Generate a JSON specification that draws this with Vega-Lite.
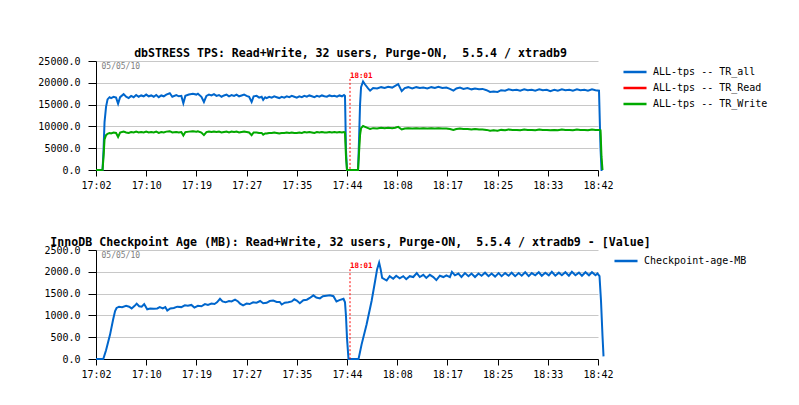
{
  "$schema": "https://vega.github.io/schema/vega-lite/v6.json",
  "padding": {"left": 37, "top": 48, "right": 5, "bottom": 5},
  "spacing": 47,
  "config": {
    "font": "DejaVu Sans Mono",
    "view": {"stroke": null},
    "axis": {"labelFont": "DejaVu Sans Mono", "labelFontSize": 10, "labelColor": "#000000", "domainColor": "#000000", "tickColor": "#000000", "labelFlush": false, "labelOverlap": false},
    "axisX": {"grid": false, "tickSize": 6, "labelPadding": 4},
    "axisY": {"grid": true, "gridColor": "#c8c8c8", "tickSize": 8, "labelPadding": 8},
    "legend": {"orient": "right", "labelFont": "DejaVu Sans Mono", "labelFontSize": 10, "labelColor": "#000000", "symbolType": "M-2.5,0H2.5", "symbolSize": 85, "symbolStrokeWidth": 2.5, "labelOffset": 12, "rowPadding": 5, "offset": 17, "padding": 5},
    "title": {"font": "DejaVu Sans Mono", "fontSize": 11.6, "fontWeight": "bold", "color": "#000000", "anchor": "middle", "frame": "group", "offset": -4, "dx": 3.5}
  },
  "datasets": {
    "tps": [
      {"i":0,"TR_all":0,"TR_Read":0,"TR_Write":0},
      {"i":1.3,"TR_all":0,"TR_Read":0,"TR_Write":0},
      {"i":1.5,"TR_all":4500,"TR_Read":3000,"TR_Write":3000},
      {"i":1.7,"TR_all":11000,"TR_Read":7000,"TR_Write":7000},
      {"i":2.0,"TR_all":14500,"TR_Read":8000,"TR_Write":8000},
      {"i":2.3,"TR_all":16200,"TR_Read":8300,"TR_Write":8300},
      {"i":2.7,"TR_all":16700,"TR_Read":8500,"TR_Write":8500},
      {"i":3.0,"TR_all":16500,"TR_Read":8400,"TR_Write":8400},
      {"i":3.5,"TR_all":16800,"TR_Read":8600,"TR_Write":8600},
      {"i":4.0,"TR_all":16600,"TR_Read":8500,"TR_Write":8500},
      {"i":4.4,"TR_all":15200,"TR_Read":7600,"TR_Write":7600},
      {"i":4.8,"TR_all":16700,"TR_Read":8600,"TR_Write":8600},
      {"i":5.5,"TR_all":17400,"TR_Read":8800,"TR_Write":8800},
      {"i":6.0,"TR_all":16800,"TR_Read":8600,"TR_Write":8600},
      {"i":6.5,"TR_all":16500,"TR_Read":8500,"TR_Write":8500},
      {"i":7.0,"TR_all":17000,"TR_Read":8700,"TR_Write":8700},
      {"i":7.5,"TR_all":16700,"TR_Read":8600,"TR_Write":8600},
      {"i":8.0,"TR_all":17200,"TR_Read":8800,"TR_Write":8800},
      {"i":8.5,"TR_all":16800,"TR_Read":8600,"TR_Write":8600},
      {"i":9.0,"TR_all":17100,"TR_Read":8700,"TR_Write":8700},
      {"i":9.5,"TR_all":16900,"TR_Read":8600,"TR_Write":8600},
      {"i":10.0,"TR_all":17300,"TR_Read":8800,"TR_Write":8800},
      {"i":10.5,"TR_all":16900,"TR_Read":8600,"TR_Write":8600},
      {"i":11.0,"TR_all":17100,"TR_Read":8700,"TR_Write":8700},
      {"i":11.5,"TR_all":16800,"TR_Read":8600,"TR_Write":8600},
      {"i":12.0,"TR_all":17200,"TR_Read":8800,"TR_Write":8800},
      {"i":12.5,"TR_all":16700,"TR_Read":8500,"TR_Write":8500},
      {"i":13.0,"TR_all":17100,"TR_Read":8700,"TR_Write":8700},
      {"i":13.5,"TR_all":16900,"TR_Read":8600,"TR_Write":8600},
      {"i":14.0,"TR_all":17300,"TR_Read":8800,"TR_Write":8800},
      {"i":14.7,"TR_all":17600,"TR_Read":8900,"TR_Write":8900},
      {"i":15.2,"TR_all":16800,"TR_Read":8600,"TR_Write":8600},
      {"i":16.0,"TR_all":17200,"TR_Read":8700,"TR_Write":8700},
      {"i":16.5,"TR_all":16900,"TR_Read":8600,"TR_Write":8600},
      {"i":17.0,"TR_all":17000,"TR_Read":8700,"TR_Write":8700},
      {"i":17.4,"TR_all":15300,"TR_Read":7900,"TR_Write":7900},
      {"i":17.8,"TR_all":17000,"TR_Read":8700,"TR_Write":8700},
      {"i":18.5,"TR_all":17300,"TR_Read":8800,"TR_Write":8800},
      {"i":19.3,"TR_all":17500,"TR_Read":8900,"TR_Write":8900},
      {"i":20.0,"TR_all":17300,"TR_Read":8800,"TR_Write":8800},
      {"i":20.3,"TR_all":17500,"TR_Read":8900,"TR_Write":8900},
      {"i":21.0,"TR_all":16800,"TR_Read":8600,"TR_Write":8600},
      {"i":21.5,"TR_all":15600,"TR_Read":8000,"TR_Write":8000},
      {"i":22.0,"TR_all":17000,"TR_Read":8700,"TR_Write":8700},
      {"i":22.5,"TR_all":17300,"TR_Read":8800,"TR_Write":8800},
      {"i":23.0,"TR_all":17100,"TR_Read":8700,"TR_Write":8700},
      {"i":23.5,"TR_all":17400,"TR_Read":8800,"TR_Write":8800},
      {"i":24.0,"TR_all":17000,"TR_Read":8700,"TR_Write":8700},
      {"i":24.5,"TR_all":17200,"TR_Read":8800,"TR_Write":8800},
      {"i":25.0,"TR_all":16800,"TR_Read":8600,"TR_Write":8600},
      {"i":25.5,"TR_all":17100,"TR_Read":8700,"TR_Write":8700},
      {"i":26.0,"TR_all":17300,"TR_Read":8800,"TR_Write":8800},
      {"i":26.5,"TR_all":16900,"TR_Read":8600,"TR_Write":8600},
      {"i":27.0,"TR_all":17200,"TR_Read":8800,"TR_Write":8800},
      {"i":27.5,"TR_all":17000,"TR_Read":8700,"TR_Write":8700},
      {"i":28.0,"TR_all":17300,"TR_Read":8800,"TR_Write":8800},
      {"i":28.5,"TR_all":16900,"TR_Read":8600,"TR_Write":8600},
      {"i":29.0,"TR_all":17100,"TR_Read":8700,"TR_Write":8700},
      {"i":29.5,"TR_all":17300,"TR_Read":8800,"TR_Write":8800},
      {"i":30.0,"TR_all":17000,"TR_Read":8700,"TR_Write":8700},
      {"i":30.5,"TR_all":16800,"TR_Read":8600,"TR_Write":8600},
      {"i":31.0,"TR_all":15600,"TR_Read":8000,"TR_Write":8000},
      {"i":31.4,"TR_all":16900,"TR_Read":8600,"TR_Write":8600},
      {"i":32.0,"TR_all":17000,"TR_Read":8600,"TR_Write":8600},
      {"i":32.5,"TR_all":16600,"TR_Read":8500,"TR_Write":8500},
      {"i":33.0,"TR_all":16800,"TR_Read":8500,"TR_Write":8500},
      {"i":33.3,"TR_all":16100,"TR_Read":8100,"TR_Write":8100},
      {"i":33.7,"TR_all":16700,"TR_Read":8400,"TR_Write":8400},
      {"i":34.0,"TR_all":16500,"TR_Read":8400,"TR_Write":8400},
      {"i":34.5,"TR_all":16800,"TR_Read":8500,"TR_Write":8500},
      {"i":35.0,"TR_all":16600,"TR_Read":8500,"TR_Write":8500},
      {"i":35.5,"TR_all":16900,"TR_Read":8600,"TR_Write":8600},
      {"i":36.0,"TR_all":16700,"TR_Read":8500,"TR_Write":8500},
      {"i":36.5,"TR_all":16500,"TR_Read":8400,"TR_Write":8400},
      {"i":37.0,"TR_all":16800,"TR_Read":8500,"TR_Write":8500},
      {"i":37.5,"TR_all":16600,"TR_Read":8500,"TR_Write":8500},
      {"i":38.0,"TR_all":16900,"TR_Read":8600,"TR_Write":8600},
      {"i":38.5,"TR_all":16700,"TR_Read":8500,"TR_Write":8500},
      {"i":39.0,"TR_all":17000,"TR_Read":8600,"TR_Write":8600},
      {"i":39.5,"TR_all":16800,"TR_Read":8500,"TR_Write":8500},
      {"i":40.0,"TR_all":16600,"TR_Read":8500,"TR_Write":8500},
      {"i":40.5,"TR_all":16900,"TR_Read":8600,"TR_Write":8600},
      {"i":41.0,"TR_all":16700,"TR_Read":8500,"TR_Write":8500},
      {"i":41.5,"TR_all":17000,"TR_Read":8700,"TR_Write":8700},
      {"i":42.0,"TR_all":16800,"TR_Read":8600,"TR_Write":8600},
      {"i":42.5,"TR_all":17100,"TR_Read":8700,"TR_Write":8700},
      {"i":43.0,"TR_all":16900,"TR_Read":8600,"TR_Write":8600},
      {"i":43.5,"TR_all":16700,"TR_Read":8500,"TR_Write":8500},
      {"i":44.0,"TR_all":17000,"TR_Read":8700,"TR_Write":8700},
      {"i":44.5,"TR_all":16800,"TR_Read":8600,"TR_Write":8600},
      {"i":45.0,"TR_all":17100,"TR_Read":8700,"TR_Write":8700},
      {"i":45.5,"TR_all":16900,"TR_Read":8600,"TR_Write":8600},
      {"i":46.0,"TR_all":16800,"TR_Read":8600,"TR_Write":8600},
      {"i":46.5,"TR_all":17100,"TR_Read":8700,"TR_Write":8700},
      {"i":47.0,"TR_all":16900,"TR_Read":8600,"TR_Write":8600},
      {"i":47.5,"TR_all":17000,"TR_Read":8700,"TR_Write":8700},
      {"i":48.0,"TR_all":16800,"TR_Read":8600,"TR_Write":8600},
      {"i":48.5,"TR_all":17100,"TR_Read":8700,"TR_Write":8700},
      {"i":49.0,"TR_all":16900,"TR_Read":8600,"TR_Write":8600},
      {"i":49.4,"TR_all":17200,"TR_Read":8700,"TR_Write":8700},
      {"i":49.6,"TR_all":17000,"TR_Read":8600,"TR_Write":8600},
      {"i":49.8,"TR_all":4500,"TR_Read":3000,"TR_Write":3000},
      {"i":50.0,"TR_all":0,"TR_Read":0,"TR_Write":0},
      {"i":52.2,"TR_all":0,"TR_Read":0,"TR_Write":0},
      {"i":52.4,"TR_all":7000,"TR_Read":4000,"TR_Write":4000},
      {"i":52.6,"TR_all":15000,"TR_Read":8000,"TR_Write":8000},
      {"i":52.8,"TR_all":19000,"TR_Read":9600,"TR_Write":9600},
      {"i":53.2,"TR_all":20300,"TR_Read":10100,"TR_Write":10100},
      {"i":53.6,"TR_all":19600,"TR_Read":9900,"TR_Write":9900},
      {"i":54.2,"TR_all":18700,"TR_Read":9600,"TR_Write":9600},
      {"i":54.6,"TR_all":18200,"TR_Read":9400,"TR_Write":9400},
      {"i":55.2,"TR_all":18800,"TR_Read":9600,"TR_Write":9600},
      {"i":56.0,"TR_all":18700,"TR_Read":9500,"TR_Write":9500},
      {"i":56.8,"TR_all":19000,"TR_Read":9700,"TR_Write":9700},
      {"i":57.5,"TR_all":18800,"TR_Read":9600,"TR_Write":9600},
      {"i":58.2,"TR_all":19100,"TR_Read":9700,"TR_Write":9700},
      {"i":59.0,"TR_all":18900,"TR_Read":9600,"TR_Write":9600},
      {"i":59.6,"TR_all":19300,"TR_Read":9700,"TR_Write":9700},
      {"i":60.2,"TR_all":19700,"TR_Read":9900,"TR_Write":9900},
      {"i":60.9,"TR_all":18100,"TR_Read":9300,"TR_Write":9300},
      {"i":61.5,"TR_all":18800,"TR_Read":9500,"TR_Write":9500},
      {"i":62.2,"TR_all":19000,"TR_Read":9600,"TR_Write":9600},
      {"i":63.0,"TR_all":18700,"TR_Read":9500,"TR_Write":9500},
      {"i":63.8,"TR_all":19000,"TR_Read":9600,"TR_Write":9600},
      {"i":64.5,"TR_all":18800,"TR_Read":9500,"TR_Write":9500},
      {"i":65.2,"TR_all":18900,"TR_Read":9600,"TR_Write":9600},
      {"i":66.0,"TR_all":18700,"TR_Read":9500,"TR_Write":9500},
      {"i":66.8,"TR_all":19000,"TR_Read":9600,"TR_Write":9600},
      {"i":67.5,"TR_all":18800,"TR_Read":9500,"TR_Write":9500},
      {"i":68.2,"TR_all":19100,"TR_Read":9600,"TR_Write":9600},
      {"i":69.0,"TR_all":18800,"TR_Read":9500,"TR_Write":9500},
      {"i":69.8,"TR_all":18900,"TR_Read":9500,"TR_Write":9500},
      {"i":70.5,"TR_all":18600,"TR_Read":9400,"TR_Write":9400},
      {"i":71.2,"TR_all":18200,"TR_Read":9200,"TR_Write":9200},
      {"i":71.8,"TR_all":18700,"TR_Read":9400,"TR_Write":9400},
      {"i":72.5,"TR_all":18900,"TR_Read":9500,"TR_Write":9500},
      {"i":73.2,"TR_all":18600,"TR_Read":9400,"TR_Write":9400},
      {"i":74.0,"TR_all":18800,"TR_Read":9400,"TR_Write":9400},
      {"i":74.8,"TR_all":18500,"TR_Read":9300,"TR_Write":9300},
      {"i":75.5,"TR_all":18700,"TR_Read":9400,"TR_Write":9400},
      {"i":76.3,"TR_all":18500,"TR_Read":9300,"TR_Write":9300},
      {"i":77.0,"TR_all":18600,"TR_Read":9300,"TR_Write":9300},
      {"i":77.8,"TR_all":18300,"TR_Read":9200,"TR_Write":9200},
      {"i":78.5,"TR_all":17900,"TR_Read":9000,"TR_Write":9000},
      {"i":79.2,"TR_all":18000,"TR_Read":9100,"TR_Write":9100},
      {"i":80.0,"TR_all":17900,"TR_Read":9000,"TR_Write":9000},
      {"i":80.7,"TR_all":18300,"TR_Read":9200,"TR_Write":9200},
      {"i":81.5,"TR_all":18200,"TR_Read":9100,"TR_Write":9100},
      {"i":82.2,"TR_all":18500,"TR_Read":9300,"TR_Write":9300},
      {"i":83.0,"TR_all":18300,"TR_Read":9200,"TR_Write":9200},
      {"i":83.8,"TR_all":18400,"TR_Read":9200,"TR_Write":9200},
      {"i":84.5,"TR_all":18200,"TR_Read":9100,"TR_Write":9100},
      {"i":85.3,"TR_all":18500,"TR_Read":9300,"TR_Write":9300},
      {"i":86.0,"TR_all":18300,"TR_Read":9200,"TR_Write":9200},
      {"i":86.8,"TR_all":18400,"TR_Read":9200,"TR_Write":9200},
      {"i":87.5,"TR_all":18200,"TR_Read":9100,"TR_Write":9100},
      {"i":88.3,"TR_all":18500,"TR_Read":9300,"TR_Write":9300},
      {"i":89.0,"TR_all":18300,"TR_Read":9200,"TR_Write":9200},
      {"i":89.8,"TR_all":18400,"TR_Read":9200,"TR_Write":9200},
      {"i":90.5,"TR_all":18100,"TR_Read":9100,"TR_Write":9100},
      {"i":91.3,"TR_all":18400,"TR_Read":9200,"TR_Write":9200},
      {"i":92.0,"TR_all":18200,"TR_Read":9100,"TR_Write":9100},
      {"i":92.8,"TR_all":18500,"TR_Read":9300,"TR_Write":9300},
      {"i":93.5,"TR_all":18300,"TR_Read":9200,"TR_Write":9200},
      {"i":94.3,"TR_all":18400,"TR_Read":9200,"TR_Write":9200},
      {"i":95.0,"TR_all":18200,"TR_Read":9100,"TR_Write":9100},
      {"i":95.8,"TR_all":18500,"TR_Read":9300,"TR_Write":9300},
      {"i":96.5,"TR_all":18300,"TR_Read":9200,"TR_Write":9200},
      {"i":97.3,"TR_all":18400,"TR_Read":9200,"TR_Write":9200},
      {"i":98.0,"TR_all":18200,"TR_Read":9100,"TR_Write":9100},
      {"i":98.8,"TR_all":18500,"TR_Read":9300,"TR_Write":9300},
      {"i":99.5,"TR_all":18300,"TR_Read":9200,"TR_Write":9200},
      {"i":100.2,"TR_all":18200,"TR_Read":9200,"TR_Write":9200},
      {"i":100.5,"TR_all":5000,"TR_Read":9100,"TR_Write":9100},
      {"i":100.7,"TR_all":0,"TR_Read":3000,"TR_Write":3000},
      {"i":100.9,"TR_all":0,"TR_Read":0,"TR_Write":0}
    ],
    "ckpt": [
      {"i":0,"v":0},{"i":1.45,"v":0},{"i":2.0,"v":200},{"i":2.8,"v":560},{"i":3.4,"v":900},{"i":3.8,"v":1100},{"i":4.1,"v":1170},{"i":4.6,"v":1200},{"i":5.2,"v":1190},{"i":6.0,"v":1220},{"i":6.6,"v":1200},{"i":7.1,"v":1160},{"i":7.7,"v":1220},{"i":8.1,"v":1270},{"i":8.6,"v":1210},{"i":9.1,"v":1200},{"i":9.6,"v":1260},{"i":10.2,"v":1140},{"i":10.8,"v":1160},{"i":11.5,"v":1150},{"i":12.2,"v":1160},{"i":12.7,"v":1190},{"i":13.3,"v":1160},{"i":13.8,"v":1190},{"i":14.2,"v":1110},{"i":14.8,"v":1160},{"i":15.5,"v":1170},{"i":16.2,"v":1200},{"i":17.0,"v":1190},{"i":17.7,"v":1230},{"i":18.3,"v":1220},{"i":19.0,"v":1240},{"i":19.6,"v":1180},{"i":20.3,"v":1220},{"i":21.0,"v":1210},{"i":21.7,"v":1260},{"i":22.3,"v":1240},{"i":23.0,"v":1270},{"i":23.6,"v":1260},{"i":24.1,"v":1300},{"i":24.7,"v":1380},{"i":25.2,"v":1320},{"i":25.8,"v":1300},{"i":26.5,"v":1330},{"i":27.0,"v":1320},{"i":27.7,"v":1360},{"i":28.3,"v":1320},{"i":28.7,"v":1270},{"i":29.3,"v":1230},{"i":30.0,"v":1270},{"i":30.6,"v":1260},{"i":31.3,"v":1300},{"i":32.0,"v":1290},{"i":32.7,"v":1330},{"i":33.3,"v":1280},{"i":34.0,"v":1290},{"i":34.6,"v":1330},{"i":35.3,"v":1340},{"i":36.0,"v":1310},{"i":36.6,"v":1310},{"i":37.0,"v":1250},{"i":37.6,"v":1290},{"i":38.3,"v":1300},{"i":39.0,"v":1320},{"i":39.5,"v":1370},{"i":40.0,"v":1340},{"i":40.6,"v":1280},{"i":41.3,"v":1350},{"i":42.0,"v":1360},{"i":42.6,"v":1400},{"i":43.3,"v":1460},{"i":43.9,"v":1410},{"i":44.6,"v":1390},{"i":45.2,"v":1440},{"i":45.9,"v":1450},{"i":46.6,"v":1460},{"i":47.3,"v":1440},{"i":47.9,"v":1320},{"i":48.5,"v":1350},{"i":49.3,"v":1380},{"i":49.6,"v":1300},{"i":49.8,"v":980},{"i":50.0,"v":480},{"i":50.3,"v":0},
      {"i":52.3,"v":0},{"i":52.9,"v":330},{"i":53.9,"v":790},{"i":54.9,"v":1330},{"i":55.6,"v":1790},{"i":56.0,"v":2060},{"i":56.4,"v":2210},{"i":56.7,"v":2060},{"i":57.0,"v":1860},{"i":57.9,"v":1800},{"i":58.5,"v":1900},{"i":59.2,"v":1840},{"i":59.8,"v":1910},{"i":60.5,"v":1850},{"i":61.2,"v":1900},{"i":61.8,"v":1830},{"i":62.5,"v":1900},{"i":63.2,"v":1880},{"i":63.9,"v":1970},{"i":64.5,"v":1880},{"i":65.2,"v":1930},{"i":65.8,"v":1860},{"i":66.5,"v":1930},{"i":67.2,"v":1880},{"i":67.8,"v":1810},{"i":68.5,"v":1910},{"i":69.2,"v":1880},{"i":69.8,"v":1920},{"i":70.5,"v":1880},{"i":70.9,"v":2000},{"i":71.5,"v":1920},{"i":72.2,"v":1960},{"i":72.8,"v":1880},{"i":73.5,"v":1970},{"i":74.2,"v":1900},{"i":74.8,"v":1960},{"i":75.5,"v":1880},{"i":76.2,"v":1960},{"i":76.8,"v":1910},{"i":77.5,"v":1980},{"i":78.2,"v":1900},{"i":78.8,"v":1960},{"i":79.5,"v":1890},{"i":80.2,"v":1970},{"i":80.8,"v":1900},{"i":81.5,"v":1970},{"i":82.2,"v":1910},{"i":82.8,"v":1980},{"i":83.5,"v":1900},{"i":84.2,"v":1970},{"i":84.8,"v":1910},{"i":85.5,"v":1990},{"i":86.2,"v":1900},{"i":86.8,"v":1970},{"i":87.5,"v":1920},{"i":88.2,"v":1990},{"i":88.8,"v":1910},{"i":89.5,"v":1980},{"i":90.2,"v":1920},{"i":90.8,"v":2000},{"i":91.5,"v":1910},{"i":92.2,"v":1980},{"i":92.8,"v":1920},{"i":93.5,"v":1990},{"i":94.2,"v":1910},{"i":94.8,"v":2000},{"i":95.5,"v":1920},{"i":96.2,"v":1980},{"i":96.8,"v":1910},{"i":97.5,"v":1990},{"i":98.2,"v":1920},{"i":98.8,"v":1990},{"i":99.5,"v":1920},{"i":99.9,"v":1960},{"i":100.3,"v":1900},{"i":100.6,"v":1330},{"i":100.9,"v":520},{"i":101.1,"v":60}
    ],
    "mark1": [{"i": 50.6, "v": 20900, "label": "18:01", "date": "05/05/10"}],
    "mark2": [{"i": 50.6, "v": 2060, "label": "18:01", "date": "05/05/10"}]
  },
  "resolve": {"scale": {"color": "independent"}, "legend": {"color": "independent"}},
  "vconcat": [
    {
      "title": {"text": "dbSTRESS TPS: Read+Write, 32 users, Purge-ON,\u00a0 5.5.4 / xtradb9"},
      "width": 502,
      "height": 109,
      "encoding": {
        "x": {"field": "i", "type": "quantitative", "scale": {"domain": [0, 100], "nice": false, "zero": false},
              "axis": {"title": null, "values": [0,10,20,30,40,50,60,70,80,90,100],
                       "labelExpr": "['17:02','17:10','17:19','17:27','17:35','17:44','18:08','18:17','18:25','18:33','18:42'][round(datum.value/10)]"}},
        "y": {"field": "v", "type": "quantitative", "scale": {"domain": [0, 25000], "nice": false},
              "axis": {"title": null, "values": [0,5000,10000,15000,20000,25000], "format": ".1f"}}
      },
      "layer": [
        {
          "data": {"name": "tps"},
          "transform": [{"fold": ["TR_all", "TR_Read", "TR_Write"], "as": ["series", "v"]}],
          "mark": {"type": "line"},
          "encoding": {
            "color": {"field": "series", "type": "nominal",
                      "scale": {"domain": ["TR_all", "TR_Read", "TR_Write"], "range": ["#0066cc", "#ff0000", "#00aa00"]},
                      "legend": {"title": null, "labelExpr": "'ALL-tps -- ' + datum.label"}},
            "strokeWidth": {"condition": {"test": "datum.series === 'TR_Read'", "value": 0.8}, "value": 2}
          }
        },
        {
          "data": {"name": "mark1"},
          "mark": {"type": "rule", "color": "#ff0000", "strokeDash": [2, 2], "strokeWidth": 1},
          "encoding": {"y2": {"datum": 0}}
        },
        {
          "data": {"name": "mark1"},
          "mark": {"type": "text", "color": "#ff0000", "align": "left", "baseline": "alphabetic", "dy": -1, "fontSize": 7.5, "fontWeight": "bold", "font": "DejaVu Sans Mono"},
          "encoding": {"text": {"field": "label"}}
        },
        {
          "data": {"name": "mark1"},
          "mark": {"type": "text", "color": "#808080", "align": "left", "baseline": "alphabetic", "dx": 5.5, "dy": 7.5, "fontSize": 8, "font": "DejaVu Sans Mono"},
          "encoding": {"x": {"datum": 0}, "y": {"datum": 25000}, "text": {"field": "date"}}
        }
      ]
    },
    {
      "title": {"text": "InnoDB Checkpoint Age (MB): Read+Write, 32 users, Purge-ON,\u00a0 5.5.4 / xtradb9 - [Value]"},
      "width": 502,
      "height": 109,
      "encoding": {
        "x": {"field": "i", "type": "quantitative", "scale": {"domain": [0, 100], "nice": false, "zero": false},
              "axis": {"title": null, "values": [0,10,20,30,40,50,60,70,80,90,100],
                       "labelExpr": "['17:02','17:10','17:19','17:27','17:35','17:44','18:08','18:17','18:25','18:33','18:42'][round(datum.value/10)]"}},
        "y": {"field": "v", "type": "quantitative", "scale": {"domain": [0, 2500], "nice": false},
              "axis": {"title": null, "values": [0,500,1000,1500,2000,2500], "format": ".1f"}}
      },
      "layer": [
        {
          "data": {"name": "ckpt"},
          "mark": {"type": "line", "strokeWidth": 2},
          "encoding": {
            "color": {"datum": "Checkpoint-age-MB", "type": "nominal",
                      "scale": {"domain": ["Checkpoint-age-MB"], "range": ["#0066cc"]},
                      "legend": {"title": null}}
          }
        },
        {
          "data": {"name": "mark2"},
          "mark": {"type": "rule", "color": "#ff0000", "strokeDash": [2, 2], "strokeWidth": 1},
          "encoding": {"y2": {"datum": 0}}
        },
        {
          "data": {"name": "mark2"},
          "mark": {"type": "text", "color": "#ff0000", "align": "left", "baseline": "alphabetic", "dy": -1, "fontSize": 7.5, "fontWeight": "bold", "font": "DejaVu Sans Mono"},
          "encoding": {"text": {"field": "label"}}
        },
        {
          "data": {"name": "mark2"},
          "mark": {"type": "text", "color": "#808080", "align": "left", "baseline": "alphabetic", "dx": 5.5, "dy": 7.5, "fontSize": 8, "font": "DejaVu Sans Mono"},
          "encoding": {"x": {"datum": 0}, "y": {"datum": 2500}, "text": {"field": "date"}}
        }
      ]
    }
  ]
}
